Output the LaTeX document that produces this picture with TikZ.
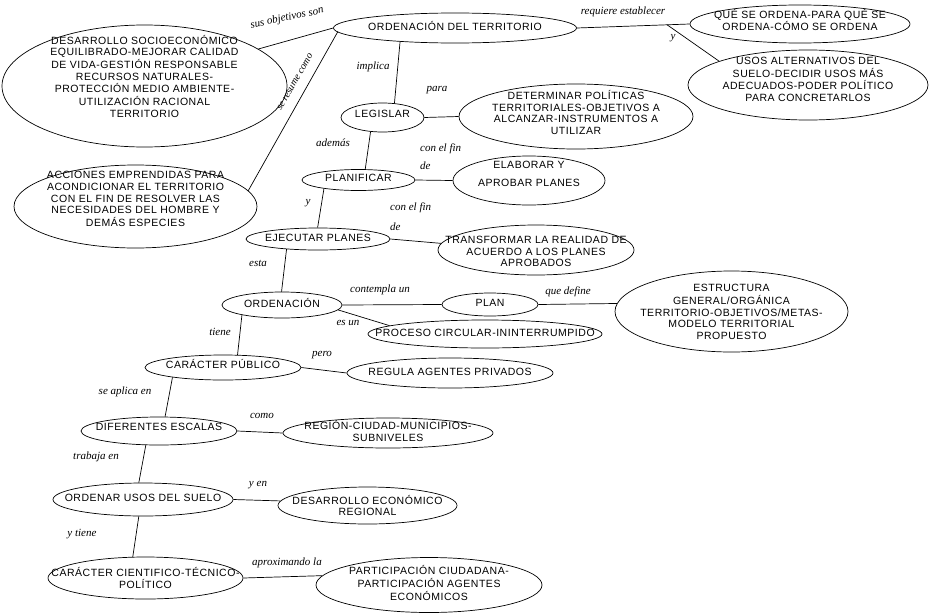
\documentclass[tikz,border=0pt]{standalone}
\usepackage{fontspec}
\usetikzlibrary{shapes.geometric,calc}
\newfontfamily\nodeff[LetterSpace=5]{Liberation Sans}
\newfontfamily\lblff{Liberation Serif}
\newcommand{\nfnt}{\nodeff\fontsize{10.5}{11.7}\selectfont}
\newcommand{\lfnt}{\lblff\itshape\fontsize{11}{13}\selectfont}
\newcommand{\zt}[2][0pt]{\makebox[0pt]{\raisebox{\dimexpr#1-2.5pt\relax}[0pt][0pt]{\begin{tabular}{@{}c@{}}#2\end{tabular}}}}
\begin{document}
\begin{tikzpicture}[x=1pt,y=-1pt,
  bub/.style={draw, ellipse, inner sep=0pt, line width=0.7pt, font=\nfnt},
  lbl/.style={font=\lfnt, inner sep=0pt},
  conn/.style={line width=0.7pt}]
\fill[white] (0,0) rectangle (933,613);
\useasboundingbox (0,0) rectangle (933,613);

% nodes
\node[bub, minimum width=243pt, minimum height=30pt] (ordterr) at (455,28) {\zt{ORDENACIÓN DEL TERRITORIO}};
\node[bub, minimum width=285pt, minimum height=122pt] (desarrollo) at (144.5,86) {\zt[8pt]{DESARROLLO SOCIOECONÓMICO\\EQUILIBRADO-MEJORAR CALIDAD\\DE VIDA-GESTIÓN RESPONSABLE\\RECURSOS NATURALES-\\PROTECCIÓN MEDIO AMBIENTE-\\UTILIZACIÓN RACIONAL\\TERRITORIO}};
\node[bub, minimum width=220pt, minimum height=38pt] (que) at (800,24) {\zt[2pt]{QUÉ SE ORDENA-PARA QUÉ SE\\ORDENA-CÓMO SE ORDENA}};
\node[bub, minimum width=240pt, minimum height=70pt] (usos) at (808,85) {\zt[4pt]{USOS ALTERNATIVOS DEL\\SUELO-DECIDIR USOS MÁS\\ADECUADOS-PODER POLÍTICO\\PARA CONCRETARLOS}};
\node[bub, minimum width=83pt, minimum height=29pt] (legislar) at (382.5,117.5) {\zt[2pt]{LEGISLAR}};
\node[bub, minimum width=234pt, minimum height=65pt] (det) at (576,116.5) {\zt[2pt]{DETERMINAR POLÍTICAS\\TERRITORIALES-OBJETIVOS A\\ALCANZAR-INSTRUMENTOS A\\UTILIZAR}};
\node[bub, minimum width=243pt, minimum height=83pt] (acciones) at (135.5,206.5) {\zt[6pt]{ACCIONES EMPRENDIDAS PARA\\ACONDICIONAR EL TERRITORIO\\CON EL FIN DE RESOLVER LAS\\NECESIDADES DEL HOMBRE Y\\DEMÁS ESPECIES}};
\node[bub, minimum width=113pt, minimum height=21pt] (planif) at (358.5,180) {\zt[1pt]{PLANIFICAR}};
\node[bub, minimum width=152pt, minimum height=49pt] (elab) at (529,180.5) {\zt[5pt]{ELABORAR Y\\[6pt]APROBAR PLANES}};
\node[bub, minimum width=144pt, minimum height=22pt] (ejec) at (318,239) {\zt{EJECUTAR PLANES}};
\node[bub, minimum width=196pt, minimum height=50pt] (transf) at (536,250) {\zt[-3pt]{TRANSFORMAR LA REALIDAD DE\\ACUERDO A LOS PLANES\\APROBADOS}};
\node[bub, minimum width=120pt, minimum height=26pt] (ordn) at (282,305) {\zt{ORDENACIÓN}};
\node[bub, minimum width=96pt, minimum height=23pt] (plan) at (490,304.5) {\zt{PLAN}};
\node[bub, minimum width=233pt, minimum height=81pt] (estr) at (731.5,311.5) {\zt[-2pt]{ESTRUCTURA\\GENERAL/ORGÁNICA\\TERRITORIO-OBJETIVOS/METAS-\\MODELO TERRITORIAL\\PROPUESTO}};
\node[bub, minimum width=234pt, minimum height=28pt] (proc) at (485,334) {\zt{PROCESO CIRCULAR-ININTERRUMPIDO}};
\node[bub, minimum width=156pt, minimum height=25pt] (cp) at (223,367.5) {\zt[2pt]{CARÁCTER PÚBLICO}};
\node[bub, minimum width=206pt, minimum height=30pt] (regula) at (450,373) {\zt{REGULA AGENTES PRIVADOS}};
\node[bub, minimum width=156pt, minimum height=28pt] (dif) at (159,431) {\zt[3pt]{DIFERENTES ESCALAS}};
\node[bub, minimum width=210pt, minimum height=30pt] (region) at (388,433) {\zt{REGIÓN-CIUDAD-MUNICIPIOS-\\SUBNIVELES}};
\node[bub, minimum width=180pt, minimum height=33pt] (ordenar) at (143,499.5) {\zt{ORDENAR USOS DEL SUELO}};
\node[bub, minimum width=179pt, minimum height=37pt] (desec) at (367.5,505.5) {\zt[-2pt]{DESARROLLO ECONÓMICO\\REGIONAL}};
\node[bub, minimum width=195pt, minimum height=42pt] (cct) at (145.5,578) {\zt[-2pt]{CARÁCTER CIENTIFICO-TÉCNICO-\\POLÍTICO}};
\node[bub, minimum width=226pt, minimum height=55pt] (part) at (429,585) {\zt{PARTICIPACIÓN CIUDADANA-\\PARTICIPACIÓN AGENTES\\ECONÓMICOS}};

% connectors
\coordinate (br) at ($(ordterr.east)!0.8!(que.west)$);
\draw[conn] (ordterr.west) -- (desarrollo.18);
\draw[conn] (ordterr.182) -- (acciones.8);
\draw[conn] (ordterr.east) -- (que.west);
\draw[conn] (br) -- (usos.165);
\draw[conn] (ordterr.194) -- (legislar.50);
\draw[conn] (legislar.east) -- (det.west);
\draw[conn] (legislar.230) -- (planif.58);
\draw[conn] (planif.east) -- (elab.west);
\draw[conn] (planif.194) -- (ejec.92);
\draw[conn] (ejec.east) -- (transf.176);
\draw[conn] (ejec.198) -- (ordn.92);
\draw[conn] (ordn.east) -- (plan.west);
\draw[conn] (plan.east) -- (estr.176.5);
\draw[conn] (ordn.355) -- (proc.175);
\draw[conn] (ordn.194) -- (cp.41);
\draw[conn] (cp.east) -- (regula.west);
\draw[conn] (cp.191) -- (dif.67);
\draw[conn] (dif.east) -- (region.west);
\draw[conn] (dif.227) -- (ordenar.104);
\draw[conn] (ordenar.east) -- (desec.177);
\draw[conn] (ordenar.256) -- (cct.121);
\draw[conn] (cct.east) -- (part.175);

% labels
\node[lbl, rotate=12] (l1) at (287,18) {sus objetivos son};
\node[lbl, rotate=60, font=\lblff\itshape\fontsize{10}{12}\selectfont] (l2) at (295,82) {se resume como};
\node[lbl] (l3) at (623,12) {requiere establecer};
\node[lbl] (l4) at (673,38) {y};
\node[lbl] (l5) at (373,67) {implica};
\node[lbl] (l6) at (437,90) {para};
\node[lbl] (l7) at (333,143) {además};
\node[lbl, anchor=west, align=left] (l8) at (420,157) {con el fin\\[5pt]de};
\node[lbl] (l9) at (308,203) {y};
\node[lbl, anchor=west, align=left] (l10) at (390,217) {con el fin\\[7pt]de};
\node[lbl] (l11) at (258,263) {esta};
\node[lbl] (l12) at (380,290) {contempla un};
\node[lbl] (l13) at (568,292) {que define};
\node[lbl] (l14) at (348,323) {es un};
\node[lbl] (l15) at (220,332) {tiene};
\node[lbl] (l16) at (322,355) {pero};
\node[lbl] (l17) at (125,392) {se aplica en};
\node[lbl] (l18) at (262,416) {como};
\node[lbl] (l19) at (96,457) {trabaja en};
\node[lbl] (l20) at (258,485) {y en};
\node[lbl] (l21) at (82,534) {y tiene};
\node[lbl] (l22) at (287,563) {aproximando la};
\end{tikzpicture}
\end{document}
